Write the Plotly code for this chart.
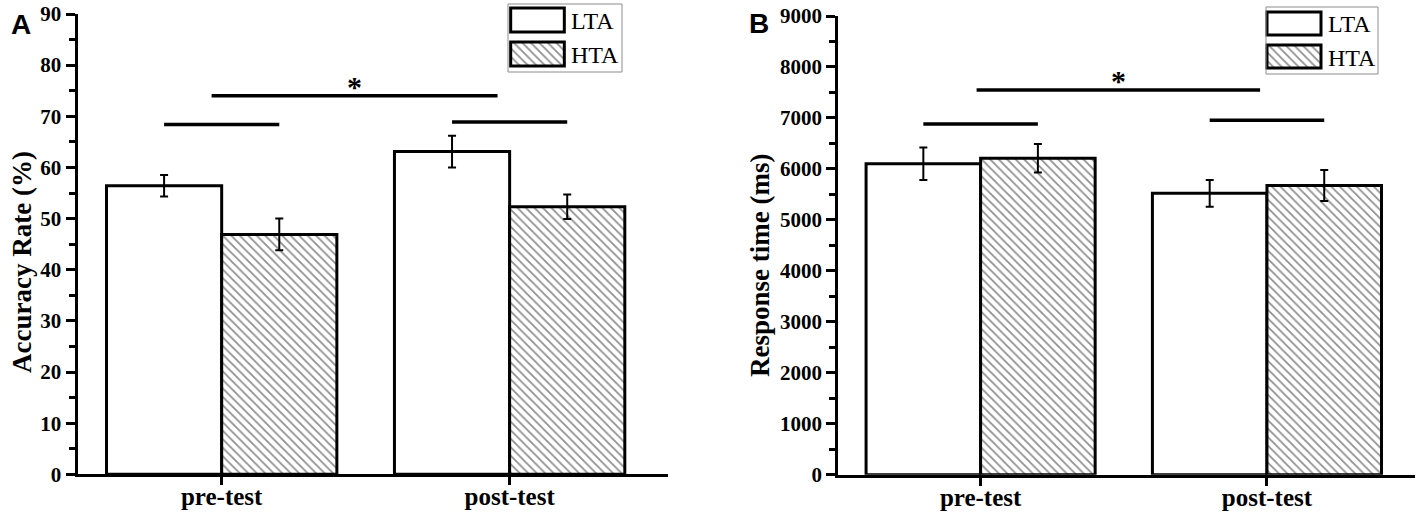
import plotly.graph_objects as go

# data
groups = ["pre-test", "post-test"]
series = ["LTA", "HTA"]

acc_lta = [56.4, 63.1]
acc_hta = [46.9, 52.3]
acc_lta_err = [2.1, 3.1]
acc_hta_err = [3.1, 2.4]

rt_lta = [6100, 5520]
rt_hta = [6210, 5674]
rt_lta_err = [320, 262]
rt_hta_err = [280, 304]

# significance bar heights: [pre pair, post pair, pre vs post]
acc_sig = [68.4, 68.9, 74.0]
rt_sig = [6881, 6953, 7548]

W, H = 1421, 513
SERIF = "Liberation Serif"


def px(x):
    return x / W


def py(y):
    return (H - y) / H


fig = go.Figure()

hatch = dict(shape="\\", fgcolor="#1a1a1a", bgcolor="white", size=6, solidity=0.28)
styles = {
    "LTA": dict(color="white", line=dict(color="black", width=3)),
    "HTA": dict(color="white", line=dict(color="black", width=3), pattern=hatch),
}

x_idx = list(range(len(groups)))


def add_panel(xa, ya, lta, hta, lta_err, hta_err):
    for name, vals, err in [("LTA", lta, lta_err), ("HTA", hta, hta_err)]:
        fig.add_trace(go.Bar(
            x=x_idx, y=vals, name=name, marker=styles[name],
            error_y=dict(type="data", array=err, color="black", thickness=2, width=4),
            xaxis=xa, yaxis=ya, showlegend=False,
        ))


def add_sig(xa, ya, sig, overall_span, star_shift):
    spans = [(x_idx[0] - 0.2, x_idx[0] + 0.2), (x_idx[1] - 0.2, x_idx[1] + 0.2), overall_span]
    for (x0, x1), yv in zip(spans, sig):
        fig.add_trace(go.Scatter(
            x=[x0, x1], y=[yv, yv], mode="lines", line=dict(color="black", width=3.5),
            xaxis=xa, yaxis=ya, showlegend=False, hoverinfo="skip",
        ))
    fig.add_annotation(
        x=sum(overall_span) / 2, y=sig[2], xref=xa, yref=ya, text="*", showarrow=False,
        yanchor="bottom", yshift=star_shift, font=dict(family=SERIF, size=30, color="black", weight="bold"),
    )


add_panel("x", "y", acc_lta, acc_hta, acc_lta_err, acc_hta_err)
add_sig("x", "y", acc_sig, (-0.035, 0.958), -9)
add_panel("x2", "y2", rt_lta, rt_hta, rt_lta_err, rt_hta_err)
add_sig("x2", "y2", rt_sig, (-0.014, 0.976), -9)

# custom legend swatches (big boxes like the original)
for xa, ya in [("x3", "y3"), ("x4", "y4")]:
    for name in series:
        fig.add_trace(go.Bar(
            x=[1], y=[name], base=0, orientation="h", width=0.7, marker=styles[name],
            xaxis=xa, yaxis=ya, showlegend=False, hoverinfo="skip",
        ))

tickfont = dict(family=SERIF, size=21, color="black", weight="bold")
xtickfont = dict(family=SERIF, size=25, color="black", weight="bold")

common_x = dict(
    tickmode="array", tickvals=x_idx, ticktext=groups, showline=True, linewidth=3, linecolor="black",
    ticks="outside", ticklen=8, tickwidth=3, tickcolor="black", showgrid=False, zeroline=False,
    tickfont=xtickfont, automargin=False, ticklabelstandoff=-10,
)
common_y = dict(
    showline=True, linewidth=3, linecolor="black", ticks="outside", ticklen=9, tickwidth=3,
    tickcolor="black", showgrid=False, zeroline=False, tickfont=tickfont, automargin=False,
)
hidden = dict(visible=False, automargin=False, fixedrange=True)

fig.update_layout(
    width=W, height=H, margin=dict(l=0, r=0, t=0, b=0, autoexpand=False),
    paper_bgcolor="white", plot_bgcolor="white",
    barmode="group", bargap=0.2, bargroupgap=0,
    xaxis=dict(domain=[px(77.5), px(668)], range=[-0.5007, 1.55], anchor="y", **common_x),
    yaxis=dict(domain=[py(474.3), py(14)], range=[0, 90], dtick=10, anchor="x",
               minor=dict(dtick=5, ticklen=6, tickwidth=3, ticks="outside", tickcolor="black"), **common_y),
    xaxis2=dict(domain=[px(838.3), px(1415)], range=[-0.497, 1.517], anchor="y2", **common_x),
    yaxis2=dict(domain=[py(474.7), py(16)], range=[0, 9000], dtick=1000, anchor="x2",
                minor=dict(dtick=500, ticklen=6, tickwidth=3, ticks="outside", tickcolor="black"), **common_y),
    xaxis3=dict(domain=[px(508), px(567)], range=[-0.05, 1.05], anchor="y3", **hidden),
    yaxis3=dict(domain=[py(71), py(3)], range=[1.5, -0.5], anchor="x3",
                categoryorder="array", categoryarray=series, **hidden),
    xaxis4=dict(domain=[px(1264.3), px(1323.7)], range=[-0.05, 1.05], anchor="y4", **hidden),
    yaxis4=dict(domain=[py(73), py(7)], range=[1.5, -0.5], anchor="x4",
                categoryorder="array", categoryarray=series, **hidden),
)

# legend frames and labels
for (x0, x1, y0, y1) in [(508, 622, 4, 72), (1266, 1378, 7, 74)]:
    fig.add_shape(type="rect", xref="paper", yref="paper", x0=px(x0), x1=px(x1), y0=py(y1), y1=py(y0),
                  line=dict(color="#8c8c8c", width=1), fillcolor="rgba(0,0,0,0)")
for xl, ys in [(569, (21, 55)), (1326, (24, 58))]:
    for name, yc in zip(series, ys):
        fig.add_annotation(x=px(xl), y=py(yc), xref="paper", yref="paper", text=name, showarrow=False,
                           xanchor="left", yanchor="middle", font=dict(family=SERIF, size=24, color="black"))

# axis titles and panel letters
for text, xc, yc in [("Accuracy Rate (%)", 22, 262), ("Response time (ms)", 760, 266)]:
    fig.add_annotation(x=px(xc), y=py(yc), xref="paper", yref="paper", text=text, showarrow=False,
                       textangle=-90, xanchor="center", yanchor="middle",
                       font=dict(family=SERIF, size=27, color="black", weight="bold"))
for text, xc, yc in [("A", 21, 24), ("B", 759, 23)]:
    fig.add_annotation(x=px(xc), y=py(yc), xref="paper", yref="paper", text=text, showarrow=False,
                       xanchor="center", yanchor="middle",
                       font=dict(family="Liberation Sans", size=28, color="black", weight="bold"))

# page body has a default 8px margin; drop it so the figure sits at the window origin
fig.write_html("out.html", config={"displayModeBar": False},
               post_script="document.body.style.margin='0';")
